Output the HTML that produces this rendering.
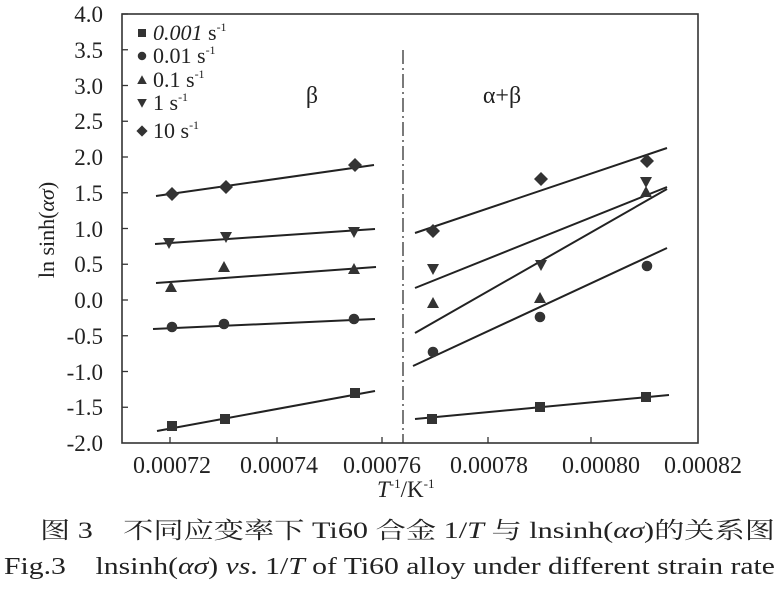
<!DOCTYPE html>
<html><head><meta charset="utf-8"><style>
body{margin:0;background:#fff;}
svg text{font-family:"Liberation Serif","Noto Serif CJK SC",serif;fill:#222;}
</style></head><body>
<svg width="780" height="587" viewBox="0 0 780 587" xmlns="http://www.w3.org/2000/svg">
<rect width="780" height="587" fill="#fff"/>
<rect x="122" y="14" width="576" height="429" fill="none" stroke="#333" stroke-width="1.6"/>
<g stroke="#333" stroke-width="1.3">
<line x1="122" y1="14" x2="128" y2="14"/><line x1="122" y1="49.75" x2="128" y2="49.75"/>
<line x1="122" y1="85.5" x2="128" y2="85.5"/><line x1="122" y1="121.25" x2="128" y2="121.25"/>
<line x1="122" y1="157" x2="128" y2="157"/><line x1="122" y1="192.75" x2="128" y2="192.75"/>
<line x1="122" y1="228.5" x2="128" y2="228.5"/><line x1="122" y1="264.25" x2="128" y2="264.25"/>
<line x1="122" y1="300" x2="128" y2="300"/><line x1="122" y1="335.75" x2="128" y2="335.75"/>
<line x1="122" y1="371.5" x2="128" y2="371.5"/><line x1="122" y1="407.25" x2="128" y2="407.25"/>
<line x1="170" y1="443" x2="170" y2="437"/><line x1="277" y1="443" x2="277" y2="437"/>
<line x1="382" y1="443" x2="382" y2="437"/><line x1="488" y1="443" x2="488" y2="437"/>
<line x1="591" y1="443" x2="591" y2="437"/>
</g>
<g font-size="23" text-anchor="end">
<text x="103" y="22">4.0</text><text x="103" y="58">3.5</text><text x="103" y="94">3.0</text>
<text x="103" y="129">2.5</text><text x="103" y="165">2.0</text><text x="103" y="201">1.5</text>
<text x="103" y="237">1.0</text><text x="103" y="272">0.5</text><text x="103" y="308">0.0</text>
<text x="103" y="344">-0.5</text><text x="103" y="380">-1.0</text><text x="103" y="415">-1.5</text>
<text x="103" y="451">-2.0</text>
</g>
<g font-size="24" text-anchor="middle">
<text x="172" y="473">0.00072</text><text x="279" y="473">0.00074</text><text x="382" y="473">0.00076</text>
<text x="489" y="473">0.00078</text><text x="601" y="473">0.00080</text><text x="703" y="473">0.00082</text>
</g>
<text x="377" y="497" font-size="23"><tspan font-style="italic">T</tspan><tspan font-size="13" dy="-9">-1</tspan><tspan dy="9">/K</tspan><tspan font-size="13" dy="-9">-1</tspan></text>
<text transform="translate(54,230) rotate(-90)" font-size="22" text-anchor="middle">ln sinh(<tspan font-style="italic">ασ</tspan>)</text>
<line x1="403" y1="50" x2="403" y2="443" stroke="#333" stroke-width="1.3" stroke-dasharray="14,4,2,4"/>
<text x="312" y="103" font-size="24" text-anchor="middle">β</text>
<text x="502" y="103" font-size="24" text-anchor="middle">α+β</text>
<g stroke="#222" stroke-width="2" fill="none">
<line x1="156" y1="196" x2="374" y2="165"/>
<line x1="155" y1="244" x2="375" y2="229"/>
<line x1="156" y1="283" x2="376" y2="267"/>
<line x1="153" y1="329" x2="375" y2="319"/>
<line x1="157" y1="431" x2="375" y2="391"/>
<line x1="415" y1="233" x2="667" y2="148"/>
<line x1="415" y1="288" x2="667" y2="187"/>
<line x1="415" y1="333" x2="667" y2="189"/>
<line x1="413" y1="366" x2="667" y2="248"/>
<line x1="415" y1="419" x2="669" y2="395"/>
</g>
<defs>
<rect id="sq" x="-5" y="-5" width="10" height="10" fill="#333"/>
<circle id="ci" r="5.3" fill="#333"/>
<polygon id="ut" points="0,-6 6,5 -6,5" fill="#333"/>
<polygon id="dt" points="0,6 6,-5 -6,-5" fill="#333"/>
<polygon id="di" points="0,-7 7,0 0,7 -7,0" fill="#333"/>
</defs>
<g>
<use href="#di" x="172" y="194"/><use href="#di" x="226" y="187"/><use href="#di" x="355" y="165"/>
<use href="#di" x="433" y="231"/><use href="#di" x="541" y="179"/><use href="#di" x="647" y="161"/>
<use href="#dt" x="169" y="243"/><use href="#dt" x="226" y="237"/><use href="#dt" x="354" y="232"/>
<use href="#dt" x="433" y="269"/><use href="#dt" x="541" y="265"/><use href="#dt" x="646" y="182"/>
<use href="#ut" x="171" y="287"/><use href="#ut" x="224" y="267"/><use href="#ut" x="354" y="269"/>
<use href="#ut" x="433" y="303"/><use href="#ut" x="540" y="298"/><use href="#ut" x="646" y="192"/>
<use href="#ci" x="172" y="327"/><use href="#ci" x="224" y="324"/><use href="#ci" x="354" y="319"/>
<use href="#ci" x="433" y="352"/><use href="#ci" x="540" y="317"/><use href="#ci" x="647" y="266"/>
<use href="#sq" x="172" y="426"/><use href="#sq" x="225" y="419"/><use href="#sq" x="355" y="393"/>
<use href="#sq" x="432" y="419"/><use href="#sq" x="540" y="407"/><use href="#sq" x="646" y="397"/>
</g>
<use href="#sq" transform="translate(142,33) scale(0.8)"/>
<use href="#ci" transform="translate(142,56) scale(0.8)"/>
<use href="#ut" transform="translate(142,80) scale(0.8)"/>
<use href="#dt" transform="translate(142,103) scale(0.8)"/>
<use href="#di" transform="translate(142,131) scale(0.8)"/>
<g font-size="22">
<text x="153" y="40"><tspan font-style="italic">0.001</tspan> s<tspan font-size="12" dy="-9">-1</tspan></text>
<text x="153" y="63">0.01 s<tspan font-size="12" dy="-9">-1</tspan></text>
<text x="153" y="87">0.1 s<tspan font-size="12" dy="-9">-1</tspan></text>
<text x="153" y="110">1 s<tspan font-size="12" dy="-9">-1</tspan></text>
<text x="153" y="138">10 s<tspan font-size="12" dy="-9">-1</tspan></text>
</g>
<text x="40" y="538" font-size="23" textLength="735" lengthAdjust="spacingAndGlyphs">图 3　不同应变率下 Ti60 合金 1/<tspan font-style="italic">T</tspan> 与 lnsinh(<tspan font-style="italic">ασ</tspan>)的关系图</text>
<text x="4" y="574" font-size="24" textLength="771" lengthAdjust="spacingAndGlyphs">Fig.3　lnsinh(<tspan font-style="italic">ασ</tspan>) <tspan font-style="italic">vs</tspan>. 1/<tspan font-style="italic">T</tspan> of Ti60 alloy under different strain rate</text>
</svg>
</body></html>
